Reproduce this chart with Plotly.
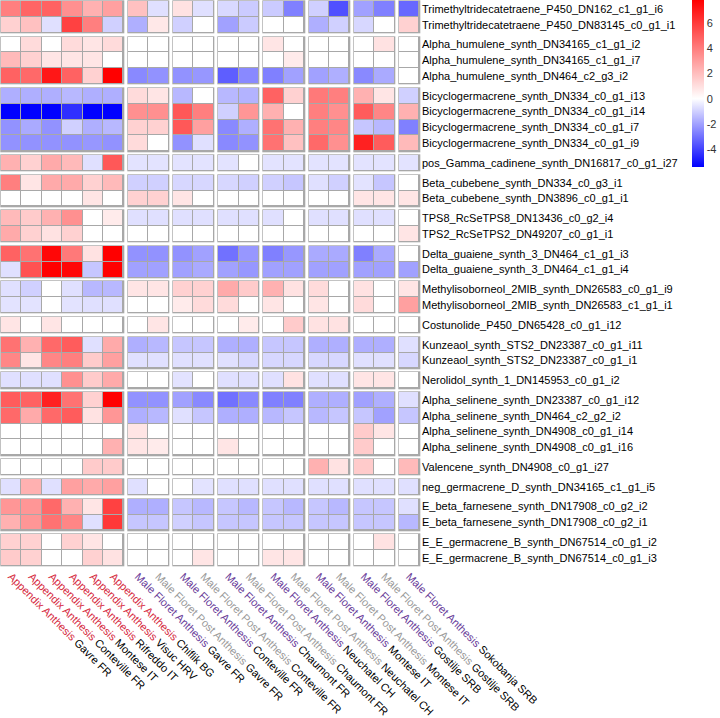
import numpy as np
import plotly.graph_objects as go

# ---------------- data ----------------
row_labels = [
    "Trimethyltridecatetraene_P450_DN162_c1_g1_i6",
    "Trimethyltridecatetraene_P450_DN83145_c0_g1_i1",
    "Alpha_humulene_synth_DN34165_c1_g1_i2",
    "Alpha_humulene_synth_DN34165_c1_g1_i7",
    "Alpha_humulene_synth_DN464_c2_g3_i2",
    "Bicyclogermacrene_synth_DN334_c0_g1_i13",
    "Bicyclogermacrene_synth_DN334_c0_g1_i14",
    "Bicyclogermacrene_synth_DN334_c0_g1_i7",
    "Bicyclogermacrene_synth_DN334_c0_g1_i9",
    "pos_Gamma_cadinene_synth_DN16817_c0_g1_i27",
    "Beta_cubebene_synth_DN334_c0_g3_i1",
    "Beta_cubebene_synth_DN3896_c0_g1_i1",
    "TPS8_RcSeTPS8_DN13436_c0_g2_i4",
    "TPS2_RcSeTPS2_DN49207_c0_g1_i1",
    "Delta_guaiene_synth_3_DN464_c1_g1_i3",
    "Delta_guaiene_synth_3_DN464_c1_g1_i4",
    "Methylisoborneol_2MIB_synth_DN26583_c0_g1_i9",
    "Methylisoborneol_2MIB_synth_DN26583_c1_g1_i1",
    "Costunolide_P450_DN65428_c0_g1_i12",
    "Kunzeaol_synth_STS2_DN23387_c0_g1_i11",
    "Kunzeaol_synth_STS2_DN23387_c0_g1_i1",
    "Nerolidol_synth_1_DN145953_c0_g1_i2",
    "Alpha_selinene_synth_DN23387_c0_g1_i12",
    "Alpha_selinene_synth_DN464_c2_g2_i2",
    "Alpha_selinene_synth_DN4908_c0_g1_i14",
    "Alpha_selinene_synth_DN4908_c0_g1_i16",
    "Valencene_synth_DN4908_c0_g1_i27",
    "neg_germacrene_D_synth_DN34165_c1_g1_i5",
    "E_beta_farnesene_synth_DN17908_c0_g2_i2",
    "E_beta_farnesene_synth_DN17908_c0_g2_i1",
    "E_E_germacrene_B_synth_DN67514_c0_g1_i2",
    "E_E_germacrene_B_synth_DN67514_c0_g1_i3",
]
row_groups = [2, 3, 4, 1, 2, 2, 2, 2, 1, 2, 1, 4, 1, 1, 2, 2]

col_conditions = ["Appendix Anthesis"] * 6 + [
    "Male Floret Anthesis", "Male Floret Post Anthesis",
    "Male Floret Anthesis", "Male Floret Post Anthesis",
    "Male Floret Anthesis", "Male Floret Post Anthesis",
    "Male Floret Anthesis", "Male Floret Post Anthesis",
    "Male Floret Anthesis", "Male Floret Post Anthesis",
    "Male Floret Anthesis", "Male Floret Post Anthesis",
    "Male Floret Anthesis"]
col_sites = ["Gavre FR", "Conteville FR", "Montese IT", "Rifreddo IT", "Visuc HRV", "Chiflik BG",
             "Gavre FR", "Gavre FR", "Conteville FR", "Conteville FR",
             "Chaumont FR", "Chaumont FR", "Neuchatel CH", "Neuchatel CH",
             "Montese IT", "Montese IT", "Gostilje SRB", "Gostilje SRB", "Sokobanja SRB"]
col_groups = [6, 2, 2, 2, 2, 2, 2, 1]
condition_colors = {"Appendix Anthesis": "#d62b3f",
                    "Male Floret Anthesis": "#6a3d9a",
                    "Male Floret Post Anthesis": "#9a9a9a"}

values = [
    [3.9, 4.7, 4.8, 3.4, 2.4, 2.9, 1.9, -0.65, 0.9, -0.65, -0.8, -1.1, -1.1, -2.7, -1.0, -3.7, -2.0, -2.7, -3.2],
    [1.4, 1.9, -0.65, 5.8, 3.9, -1.0, -1.7, 0.7, -1.0, 0, -2.0, -1.1, 0, 0, -1.7, -1.0, -0.85, 0, 1.4],
    [0, 1.1, 0, 1.1, 0.8, 1.1, 0, 0, 0, 0, 0, 0, 0.8, 0, 0, 0, 0, 0.9, 0],
    [2.1, 1.4, 0.8, 0.8, 0.8, 0, 0, 0, 0, 0, 0, 0, 0, 0.6, 0, 0, 0, 0, 0],
    [4.8, 4.6, 7.1, 4.8, 1.4, 7.8, -2.5, -2.3, -2.3, -2.2, -3.4, -2.5, -2.7, -2.0, -2.0, -1.7, -2.5, -1.8, 0],
    [-1.7, -1.7, -1.7, -1.5, -1.7, -1.7, 1.1, 0.8, -1.5, 0, -1.5, -1.6, 4.8, 1.4, 4.1, 3.9, 2.4, 0.8, -1.0],
    [-5.4, -5.4, -5.4, -4.4, -5.4, -5.4, 3.4, 3.4, 5.1, 3.9, -1.0, 3.2, 2.4, 0, 3.9, 3.4, 5.0, 3.7, 2.4],
    [-2.3, -1.8, -2.3, -1.0, -1.7, -1.5, 1.4, 1.4, 5.1, 2.9, -2.5, -1.7, 4.3, 2.4, 3.9, 3.7, -1.2, -1.5, -2.7],
    [-2.3, -2.3, -2.3, -2.3, -2.2, -2.3, 1.1, 0, -2.3, -0.65, -2.5, -2.3, 4.3, 1.9, 4.6, 3.4, 6.8, 5.0, 2.1],
    [2.4, 1.4, 2.6, 2.1, -0.65, 5.1, -0.6, -0.6, -0.6, -0.6, -0.6, 0, -0.6, -0.6, -0.6, -0.6, -0.6, -0.6, -0.6],
    [3.9, 0.8, 2.6, 2.6, 1.4, 2.1, -1.0, -1.0, -0.85, -0.85, -0.85, -1.0, -1.0, -1.2, -0.65, -1.0, -0.6, -1.2, 0],
    [0, 0, 0, 0, 0.8, 0, 1.4, 1.4, 0.8, 0, 0, 0, 0, 0, 0, 0, 0.8, 0.8, 0.8],
    [2.1, 1.6, 2.4, 3.4, 0, 0.6, -0.65, -0.65, -0.65, -0.65, -0.65, -0.65, -0.65, 0, -0.65, -0.65, -0.65, -0.65, 0],
    [2.6, 1.4, 0.9, 1.4, 0, 0, 0, 0, 0, 0, 0, 0, 0, 0, 0, 0, 0, 0, 0.8],
    [4.8, 4.3, 7.6, 4.1, 0.9, 7.8, -2.3, -2.3, -2.3, -2.0, -3.0, -2.2, -2.7, -2.2, -1.8, -1.8, -2.7, -1.8, 0],
    [-0.65, 5.3, 7.8, 7.6, -1.2, 7.8, -2.0, -2.0, -2.0, -1.8, -2.0, -2.2, -2.0, -2.0, -2.0, -2.0, -2.0, -2.0, -2.0],
    [-0.65, -1.0, 0, -0.65, -1.5, -1.5, 0.8, 0.8, 1.4, 1.4, 2.6, 1.6, 2.4, 0.9, 1.1, 0, 0.9, 0, 0.8],
    [-0.6, -0.6, 0, -0.6, -0.65, -0.65, 0, 0, 0.6, 1.1, 1.1, 0, 0.8, 0, 0.8, 0, 1.1, 0, 2.9],
    [0.8, 0, 0.8, 0, 0, 0, 0, 0.8, 0, 0, 0, 0.6, 0, 1.6, 0.9, 0.9, 0, 0, 0],
    [4.3, 2.4, 4.6, 5.0, -0.65, 2.6, -1.7, -1.5, -1.2, -1.2, -1.7, -1.7, -1.2, -1.2, -1.7, -1.7, -1.7, -1.7, -0.65],
    [3.7, 0.8, 3.7, 3.9, 1.6, 2.9, -0.65, -0.65, -0.65, -0.65, -0.65, -0.85, -0.85, -0.85, -0.85, -0.85, -0.65, -0.65, -0.85],
    [-0.65, -0.65, -0.65, 3.4, 1.6, 2.6, 0, 0, -0.6, 0, -0.65, -0.65, -0.65, 0.9, -0.65, -0.65, 0.8, 0.8, 0],
    [5.0, 4.8, 6.8, 4.3, 1.4, 7.8, -2.3, -2.3, -2.0, -2.5, -3.0, -2.5, -2.7, -2.7, -1.7, -1.7, -2.0, -1.7, -0.65],
    [4.6, 2.6, 4.6, 5.0, 0.9, 3.2, -1.7, -1.5, -0.65, -1.2, -1.7, -1.7, -1.5, -1.2, -1.5, -1.2, -1.2, -2.0, -1.2],
    [0, 0, 0, 0, 0, 0, 0.8, 0, 0, 0, 0, 0, 0, 0, 0, 0, 1.6, 0.8, 0],
    [0, 0, 0, 0, 0, 2.4, 0.8, 0.6, 0, 0, 0.8, 0, 0, 0, 0, 0, 1.6, 0, 0],
    [0, 0, 0, 0, 1.6, 1.6, 0, 0, 0, 0, 0, 0, 0, 0, 2.4, 0.9, 1.6, 0, 2.1],
    [-0.65, 2.4, -0.65, 2.9, 2.6, 2.9, -0.65, 0, 0, -0.6, -0.65, -0.65, -0.65, -0.65, -0.65, -0.65, -0.65, -0.65, -0.65],
    [3.2, 3.2, 4.6, 2.4, 0.8, 5.8, -1.7, -1.7, -1.2, -1.5, -1.2, -1.5, -1.2, -1.5, -1.2, -1.5, -1.2, -1.2, -0.65],
    [2.4, 3.2, 4.3, 3.7, -0.65, 6.1, -1.2, -1.2, -1.0, -1.2, -1.2, -1.2, -1.2, -1.2, -1.2, -1.2, -1.2, -1.2, -1.5],
    [1.4, 1.4, 0, 1.4, 0.8, 0, 0, 0, 0, 0, 0, 0, 0, 0, 0, 0, 0, 0.9, 0],
    [1.6, 1.4, 0, 0, 1.4, 0.9, 0, 0, 0, 0.8, 0, 0, 0.8, 0.8, 0, 0, 0, 0, 0],
]
z_min, z_max = -5.4, 7.8
cbar_ticks = [-4, -2, 0, 2, 4, 6]

# ---------------- geometry ----------------
CW, CG = 20.4, 4.4     # cell width, gap between column groups
RH, RG = 15.8, 3.95    # cell height, gap between row groups
PAD = 0.7              # border overhang around each block
PLOT_W, PLOT_H = 421, 567


def build(groups, size, gap):
    centers, spans, edges, idx = [], [], [], []
    pos = 0.0
    k = 0
    for gi, n in enumerate(groups):
        start = pos
        for _ in range(n):
            edges.append(pos)
            idx.append(k)
            k += 1
            centers.append(pos + size / 2)
            pos += size
        spans.append((start, pos))
        if gi < len(groups) - 1:
            edges.append(pos)
            idx.append(None)       # gap brick
            pos += gap
    edges.append(pos)
    return centers, spans, edges, idx


xc, xspans, xedges, xidx = build(col_groups, CW, CG)
yc, yspans, yedges, yidx = build(row_groups, RH, RG)

vals = np.array(values, dtype=float)
Z = np.full((len(yidx), len(xidx)), np.nan)
for i, ri in enumerate(yidx):
    for j, cj in enumerate(xidx):
        if ri is not None and cj is not None:
            Z[i, j] = vals[ri, cj]

# grey underlay (cell borders)
ub_x, ub_y = [], []
for s, e in xspans:
    ub_x += [s - PAD, e + PAD]
for s, e in yspans:
    ub_y += [s - PAD, e + PAD]
UZ = np.full((len(ub_y) - 1, len(ub_x) - 1), np.nan)
UZ[::2, ::2] = 1.0

fig = go.Figure()
fig.add_trace(go.Heatmap(
    x=ub_x, y=ub_y, z=UZ, zmin=0, zmax=1,
    colorscale=[[0, "#a8a8a8"], [1, "#a8a8a8"]],
    showscale=False, hoverinfo="skip"))

mid = (0 - z_min) / (z_max - z_min)
fig.add_trace(go.Heatmap(
    x=xedges, y=yedges, z=Z, zmin=z_min, zmax=z_max,
    xgap=1, ygap=1,
    colorscale=[[0, "#0000ff"], [mid, "#ffffff"], [1, "#ff0000"]],
    hoverinfo="skip",
    colorbar=dict(
        x=691.5 / PLOT_W, xanchor="left", xpad=0,
        y=1, yanchor="top", ypad=0,
        lenmode="pixels", len=167, thickness=12,
        outlinewidth=0, ticks="", ticklabelposition="outside",
        tickvals=cbar_ticks, ticktext=[str(t) for t in cbar_ticks],
        tickfont=dict(size=11, color="#333333"),
    ),
))

xt = [f"<span style='color:{condition_colors[c]}'>{c}</span> {s}"
      for c, s in zip(col_conditions, col_sites)]

fig.update_layout(
    template="none",
    width=720, height=718,
    margin=dict(l=0, r=720 - PLOT_W, t=0, b=718 - PLOT_H, pad=0, autoexpand=False),
    paper_bgcolor="white", plot_bgcolor="white",
    font=dict(family="Liberation Sans, Arial, sans-serif", size=11, color="#000000"),
    showlegend=False,
)
fig.update_xaxes(range=[-1, PLOT_W - 1], showgrid=False, zeroline=False, showline=False,
                 automargin=False,
                 tickmode="array", tickvals=xc, ticktext=xt, tickangle=45,
                 ticks="", tickfont=dict(size=11, color="#000000"))
fig.update_yaxes(range=[PLOT_H - 1, -1], side="right", showgrid=False, zeroline=False,
                 showline=False, automargin=False,
                 tickmode="array", tickvals=yc, ticktext=row_labels,
                 ticks="", tickfont=dict(size=11, color="#000000"))

fig.write_html("out.html",
               config={"displayModeBar": False, "staticPlot": True},
               post_script="document.body.style.margin='0px';document.body.style.padding='0px';")
